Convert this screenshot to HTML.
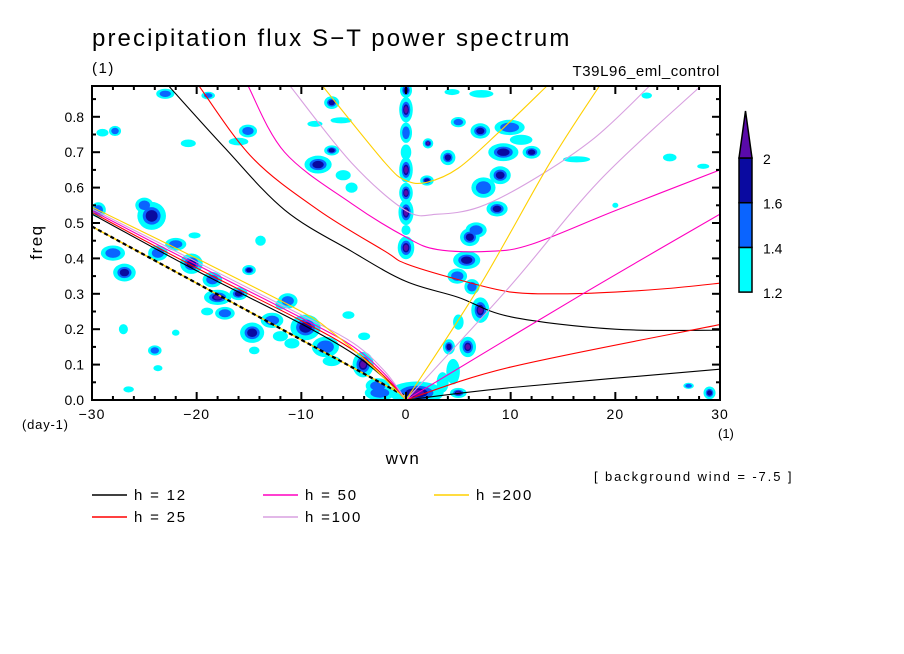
<!DOCTYPE html>
<html><head><meta charset="utf-8"><style>
html,body{margin:0;padding:0;background:#fff;}
svg{display:block;font-family:"Liberation Sans",sans-serif;}
</style></head><body>
<svg id="chart" width="904" height="654" viewBox="0 0 904 654">
<text x="92" y="46" font-size="24" letter-spacing="2.1">precipitation flux S−T power spectrum</text>
<text x="92" y="73" font-size="15" letter-spacing="1.5">(1)</text>
<text x="720" y="76" font-size="15" text-anchor="end" letter-spacing="0.6">T39L96_eml_control</text>
<defs><clipPath id="pc"><rect x="92" y="86" width="628" height="314"/></clipPath></defs>
<g id="blobs" clip-path="url(#pc)"></g>
<g id="curves" clip-path="url(#pc)"></g>
<rect x="92" y="86" width="628" height="314" fill="none" stroke="#000" stroke-width="2"/>
<g id="axes"></g>
<text x="42" y="242" font-size="17" letter-spacing="1.5" transform="rotate(-90 42 242)" text-anchor="middle">freq</text>
<text x="403" y="464" font-size="17" letter-spacing="1.5" text-anchor="middle">wvn</text>
<text x="22" y="429" font-size="13" letter-spacing="0.8">(day-1)</text>
<text x="718" y="438" font-size="13">(1)</text>
<text x="594" y="481" font-size="13" letter-spacing="1.9">[ background wind = -7.5 ]</text>
<g id="colorbar"></g>
<g id="legend"></g>
</svg>
<script>
const levelColors=["#00ffff","#0a64ff","#0a0aa0","#5a0aaa"];
const levelLabels=["1.2","1.4","1.6","2"];
const xTicks=[-30,-20,-10,0,10,20,30];
const yTicks=[0,0.1,0.2,0.3,0.4,0.5,0.6,0.7,0.8];
const depths=[12,25,50,100,200];
const curveColors=["#000000","#ff0000","#ff00c0","#d8a0e0","#ffd000"];
const kelvin=[
 [[0,0],[10,0.035],[30,0.087]],
 [[0,0],[10,0.093],[30,0.213]],
 [[0,0],[16.9,0.30],[30,0.525]],
 [[0,0],[9.9,0.32],[18.5,0.62],[28.2,0.888]],
 [[0,0],[7,0.32],[13.75,0.67],[18.5,0.888]]];
const igWave=[
 [[-22.7,0.888],[-17.4,0.715],[-11.6,0.537],[-5.2,0.42],[0,0.335],[5,0.29],[10,0.235],[20,0.20],[30,0.197]],
 [[-19.8,0.888],[-14.7,0.685],[-8.4,0.537],[-2,0.42],[0,0.385],[5,0.34],[10,0.305],[15,0.30],[20,0.305],[25,0.315],[30,0.33]],
 [[-15.1,0.888],[-11.6,0.70],[-5.2,0.555],[0,0.46],[3,0.425],[8,0.42],[12,0.44],[20,0.535],[30,0.65]],
 [[-11.1,0.888],[-5.2,0.67],[0,0.535],[3,0.525],[7,0.545],[12,0.62],[18,0.74],[23.3,0.888]],
 [[-8,0.888],[-2,0.67],[0,0.62],[2,0.615],[5,0.655],[9,0.76],[13.5,0.888]]];
const westWave=[
 [[-30,0.525],[-20,0.365],[-10,0.215],[-5,0.13],[-2,0.06],[0,0]],
 [[-30,0.53],[-20,0.373],[-10,0.224],[-5,0.14],[-2,0.065],[0,0]],
 [[-30,0.535],[-20,0.382],[-10,0.232],[-5,0.15],[-2,0.072],[0,0]],
 [[-30,0.54],[-20,0.39],[-10,0.24],[-5,0.16],[-2,0.08],[0,0]],
 [[-30,0.545],[-20,0.40],[-10,0.25],[-7,0.19],[-3.6,0.105],[0,0]]];
const dashedLine=[[-30,0.49],[0,0.01]];
const blobs=[
 [0,0.875,0.8,0.03,3],[0,0.82,0.9,0.05,4],[0,0.755,0.8,0.04,2],[0,0.65,0.9,0.05,4],[0,0.585,0.9,0.04,4],[0,0.53,1.0,0.05,4],[0,0.43,1.1,0.045,4],[0,0.70,0.7,0.03,1],[0,0.48,0.6,0.02,1],
 [1,0.02,3.6,0.045,4],[-2.5,0.02,2,0.03,2],
 [7.1,0.254,1.2,0.05,4],[5.9,0.15,1.1,0.04,4],[5,0.02,1.1,0.02,4],[4.1,0.15,0.8,0.03,3],[5,0.22,0.7,0.03,1],[4.5,0.08,0.9,0.05,1],[3.5,0.05,0.8,0.04,1],
 [4.9,0.35,1.3,0.03,2],[5.8,0.395,1.8,0.035,3],[6.1,0.46,1.3,0.035,3],[6.7,0.48,1.4,0.03,2],[8.7,0.54,1.4,0.03,3],[7.4,0.60,1.6,0.04,2],[9,0.635,1.4,0.035,3],[9.3,0.70,2.0,0.035,3],[12,0.70,1.2,0.025,3],[9.9,0.77,2.0,0.03,2],[7.1,0.76,1.3,0.03,3],[5,0.785,1.0,0.02,2],[2.1,0.725,0.7,0.02,4],[4,0.685,1.0,0.03,3],[2,0.62,0.9,0.02,3],[7.2,0.865,1.6,0.015,1],[4.4,0.87,1.0,0.012,1],[11,0.735,1.5,0.02,1],[6.3,0.32,1.0,0.03,2],
 [25.2,0.685,0.9,0.015,1],[16.3,0.68,1.8,0.012,1],[29,0.02,0.8,0.025,3],[27,0.04,0.7,0.012,2],[23,0.86,0.7,0.012,1],[28.4,0.66,0.8,0.01,1],[20,0.55,0.4,0.01,1],
 [-29.4,0.537,1.0,0.03,2],[-29,0.755,0.8,0.015,1],[-27.8,0.76,0.8,0.02,2],[-23,0.865,1.2,0.02,2],[-18.9,0.86,0.9,0.015,2],[-24.3,0.52,1.9,0.055,3],[-25,0.55,1.2,0.03,2],[-15.1,0.76,1.2,0.025,2],[-20.8,0.725,1.0,0.015,1],[-16,0.73,1.3,0.015,1],
 [-7.1,0.705,1.0,0.02,3],[-7.1,0.84,1.0,0.025,3],[-8.4,0.665,1.8,0.035,3],[-6.2,0.79,1.4,0.012,1],[-8.7,0.78,1.0,0.012,1],[-6,0.635,1.0,0.02,1],[-5.2,0.60,0.8,0.02,1],[-13.9,0.45,0.7,0.02,1],[-20.2,0.465,0.8,0.012,1],
 [-28,0.415,1.6,0.03,2],[-26.9,0.36,1.5,0.035,3],[-23.7,0.415,1.3,0.03,2],[-22,0.44,1.4,0.025,2],[-20.5,0.385,1.5,0.04,3],[-18.5,0.34,1.3,0.03,2],[-18,0.29,1.8,0.03,4],[-16,0.30,1.2,0.025,3],[-15,0.367,0.9,0.02,3],[-17.3,0.245,1.3,0.025,2],[-14.7,0.19,1.6,0.04,3],[-12.8,0.225,1.5,0.03,2],[-9.6,0.205,2.0,0.05,3],[-11.3,0.28,1.3,0.03,2],[-11.9,0.27,0.8,0.02,1],[-7.7,0.15,1.8,0.04,2],[-7.1,0.11,1.2,0.02,1],[-4.1,0.10,1.4,0.05,4],[-2.7,0.04,1.6,0.03,2],[-10.9,0.16,1.0,0.02,1],[-14.5,0.14,0.7,0.015,1],[-12,0.18,1.0,0.02,1],[-5.5,0.24,0.8,0.015,1],
 [-24,0.14,0.9,0.02,2],[-23.7,0.09,0.6,0.012,1],[-27,0.20,0.6,0.02,1],[-19,0.25,0.8,0.015,1],[-26.5,0.03,0.7,0.012,1],[-22,0.19,0.5,0.012,1],[-4,0.18,0.8,0.015,1]
];
const NS="http://www.w3.org/2000/svg";
const X0=92,X1=720,Y0=400,FMAX=0.887;
const levelScale=[0.72,0.45,0.3,0.2];
function xs(s){return X0+(s+30)*(X1-X0)/60;}
function ys(f){return Y0-f*(Y0-86)/FMAX;}
function mk(tag,attrs,parent){const e=document.createElementNS(NS,tag);for(const k in attrs)e.setAttribute(k,attrs[k]);parent.appendChild(e);return e;}
const gB=document.getElementById('blobs');
for(let lv=1;lv<=4;lv++){
 blobs.forEach(b=>{
  if(b[4]<lv)return;
  const k=levelScale[lv-1];
  const e=mk('ellipse',{cx:xs(b[0]),cy:ys(b[1]),rx:b[2]*k*(X1-X0)/60,ry:b[3]*k*(Y0-86)/FMAX,fill:levelColors[lv-1]},gB);
  
  
 });
}
function pathOf(pts){
 const p=pts.map(q=>[xs(q[0]),ys(q[1])]);
 let d="M"+p[0][0]+","+p[0][1];
 for(let i=0;i<p.length-1;i++){
  const a=p[i-1]||p[i],b=p[i],c=p[i+1],e=p[i+2]||c;
  const c1=[b[0]+(c[0]-a[0])/6,b[1]+(c[1]-a[1])/6],c2=[c[0]-(e[0]-b[0])/6,c[1]-(e[1]-b[1])/6];
  d+=" C"+c1+" "+c2+" "+c;
 }
 return d;
}
const gC=document.getElementById('curves');
function curve(pts,col,w,name,dash){
 const e=mk('path',{d:pathOf(pts),fill:"none",stroke:col,"stroke-width":w},gC);
 if(dash)e.setAttribute('stroke-dasharray',dash);
 
 
}
let dl=mk('path',{d:pathOf(dashedLine),fill:"none",stroke:"#ffd000","stroke-width":1.5},gC);


curve(dashedLine,"#000",2.2,"dashed-reference-line","4,3");
for(let i=0;i<depths.length;i++){
 curve(westWave[i],curveColors[i],1.1,"westward-curve-h"+depths[i]);
 curve(igWave[i],curveColors[i],1.1,"ig-curve-h"+depths[i]);
 curve(kelvin[i],curveColors[i],1.1,"kelvin-curve-h"+depths[i]);
}
const gA=document.getElementById('axes');
for(let s=-30;s<=30;s+=2){
 const maj=s%10===0,L=maj?8:4;
 let t=mk('line',{x1:xs(s),x2:xs(s),y1:Y0,y2:Y0-L,stroke:"#000","stroke-width":2},gA);
 
 t=mk('line',{x1:xs(s),x2:xs(s),y1:86,y2:86+L,stroke:"#000","stroke-width":2},gA);
 
}
for(let k=0;k<=17;k++){
 const f=k*0.05,L=k%2===0?8:4;
 let t=mk('line',{x1:X0,x2:X0+L,y1:ys(f),y2:ys(f),stroke:"#000","stroke-width":2},gA);
 
 t=mk('line',{x1:X1,x2:X1-L,y1:ys(f),y2:ys(f),stroke:"#000","stroke-width":2},gA);
 
}
xTicks.forEach(s=>{
 const t=mk('text',{x:xs(s),y:419,"font-size":14,"text-anchor":"middle","letter-spacing":1},gA);
 t.textContent=s<0?"−"+(-s):String(s);
 
});
yTicks.forEach(f=>{
 const t=mk('text',{x:84,y:ys(f)+5,"font-size":14,"text-anchor":"end"},gA);
 t.textContent=f.toFixed(1);
 
});
const gK=document.getElementById('colorbar');
const cbTop=158,cbH=44.7;
for(let i=0;i<3;i++){
 const r=mk('rect',{x:739,y:cbTop+(2-i)*cbH,width:13,height:cbH,fill:levelColors[i],stroke:"#000","stroke-width":1.5},gK);
 
}
let tri=mk('polygon',{points:"739,158 752,158 745.5,111",fill:levelColors[3],stroke:"#000","stroke-width":1.5},gK);

levelLabels.forEach((l,i)=>{
 const t=mk('text',{x:763,y:cbTop+(3-i)*cbH+6,"font-size":14},gK);
 t.textContent=l;
 
});
const gL=document.getElementById('legend');
const legLabels=["h = 12","h = 25","h = 50","h =100","h =200"];
const legPos=[[92,495],[92,517],[263,495],[263,517],[434,495]];
legLabels.forEach((l,i)=>{
 const [x,y]=legPos[i];
 const ln=mk('line',{x1:x,x2:x+35,y1:y,y2:y,stroke:curveColors[i],"stroke-width":1.5},gL);
 
 const t=mk('text',{x:x+42,y:y+5,"font-size":15,"letter-spacing":1.8},gL);
 t.textContent=l;
 
});
</script>
</body></html>
